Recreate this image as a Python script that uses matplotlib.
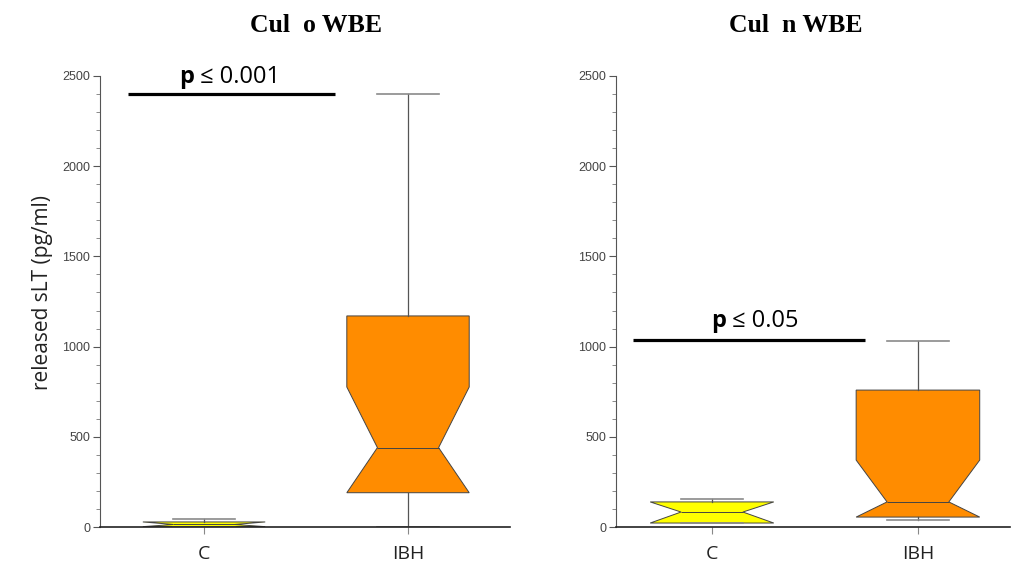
import matplotlib.pyplot as plt
from matplotlib.ticker import MultipleLocator

# valores (pg/ml)
grupos = ["C", "IBH"]
titulos = ["Cul  o WBE", "Cul  n WBE"]
colores = ["#ffff00", "#ff8c00"]

# panel izquierdo
izq_med = [14, 440]
izq_q1 = [2, 190]
izq_q3 = [28, 1170]
izq_ci_lo = [2, 190]
izq_ci_hi = [28, 776]
izq_wlo = [0, 0]
izq_whi = [42, 2400]

# panel derecho
der_med = [83, 139]
der_q1 = [22, 55]
der_q3 = [139, 759]
der_ci_lo = [22, 55]
der_ci_hi = [139, 371]
der_wlo = [22, 39]
der_whi = [155, 1031]

sig_texto = ["0.001", "0.05"]
sig_y = [2400, 1035]

fig = plt.figure(figsize=(10.26, 5.70), dpi=100)
ax1 = fig.add_axes([100/1026, 43/570, 410/1026, 451/570])
ax2 = fig.add_axes([616/1026, 43/570, 394/1026, 451/570])


def stats(med, q1, q3, clo, chi, wlo, whi):
    out = []
    for i in range(len(med)):
        out.append(dict(med=med[i], q1=q1[i], q3=q3[i], cilo=clo[i], cihi=chi[i],
                        whislo=wlo[i], whishi=whi[i], fliers=[]))
    return out


paneles = [
    (ax1, stats(izq_med, izq_q1, izq_q3, izq_ci_lo, izq_ci_hi, izq_wlo, izq_whi), (0.49, 2.5)),
    (ax2, stats(der_med, der_q1, der_q3, der_ci_lo, der_ci_hi, der_wlo, der_whi), (0.534, 2.447)),
]

for k, (ax, st, xl) in enumerate(paneles):
    b = ax.bxp(st, positions=[1, 2], widths=0.6, shownotches=True, patch_artist=True,
               boxprops=dict(edgecolor="#444444", linewidth=0.7),
               medianprops=dict(color="#444444", linewidth=0.7),
               whiskerprops=dict(color="#555555", linewidth=0.9),
               capprops=dict(color="#8a8a8a", linewidth=1.2))
    for p, c in zip(b["boxes"], colores):
        p.set_facecolor(c)
    ax.set_xlim(*xl)
    ax.set_ylim(0, 2500)
    ax.yaxis.set_major_locator(MultipleLocator(500))
    ax.yaxis.set_minor_locator(MultipleLocator(100))
    ax.tick_params(axis="y", which="major", length=5, width=0.8, color="#555555",
                   labelsize=9, labelcolor="#444444", pad=2)
    ax.tick_params(axis="y", which="minor", length=3, width=0.6, color="#777777")
    ax.tick_params(axis="x", length=5, width=0.8, color="#888888", labelsize=14, pad=8)
    ax.set_xticks([1, 2])
    ax.set_xticklabels(grupos, family="Open Sans", color="#222222")
    for lab in ax.get_yticklabels():
        lab.set_family("Liberation Sans")
    ax.spines["top"].set_visible(False)
    ax.spines["right"].set_visible(False)
    ax.spines["left"].set_color("#555555")
    ax.spines["bottom"].set_color("#222222")
    ax.spines["left"].set_linewidth(0.8)
    ax.spines["bottom"].set_linewidth(1.2)
    for s in ax.spines.values():
        s.set_zorder(5)

# barras de significancia
ax1.plot([0.627, 1.642], [sig_y[0], sig_y[0]], color="black", lw=2.3, solid_capstyle="butt")
ax1.text(0.951, 2461, "p", fontsize=17, fontweight="bold", family="Open Sans", ha="right", va="baseline")
ax1.text(0.951, 2461, " \u2264 " + sig_texto[0], fontsize=17, family="Open Sans", ha="left", va="baseline")

ax2.plot([0.617, 1.743], [sig_y[1], sig_y[1]], color="black", lw=2.3, solid_capstyle="butt")
ax2.text(1.068, 1109, "p", fontsize=17, fontweight="bold", family="Open Sans", ha="right", va="baseline")
ax2.text(1.068, 1109, " \u2264 " + sig_texto[1], fontsize=17, family="Open Sans", ha="left", va="baseline")

ax1.set_ylabel("released sLT (pg/ml)", fontsize=15, family="Open Sans", color="#222222")
ax1.yaxis.set_label_coords(-0.115, 0.52)

fig.text(316/1026, 1 - 25/570, titulos[0], ha="center", va="center", fontsize=18.5,
         fontweight="bold", family="Liberation Serif")
fig.text(796/1026, 1 - 25/570, titulos[1], ha="center", va="center", fontsize=18.5,
         fontweight="bold", family="Liberation Serif")

fig.savefig("out.png", dpi=100)
